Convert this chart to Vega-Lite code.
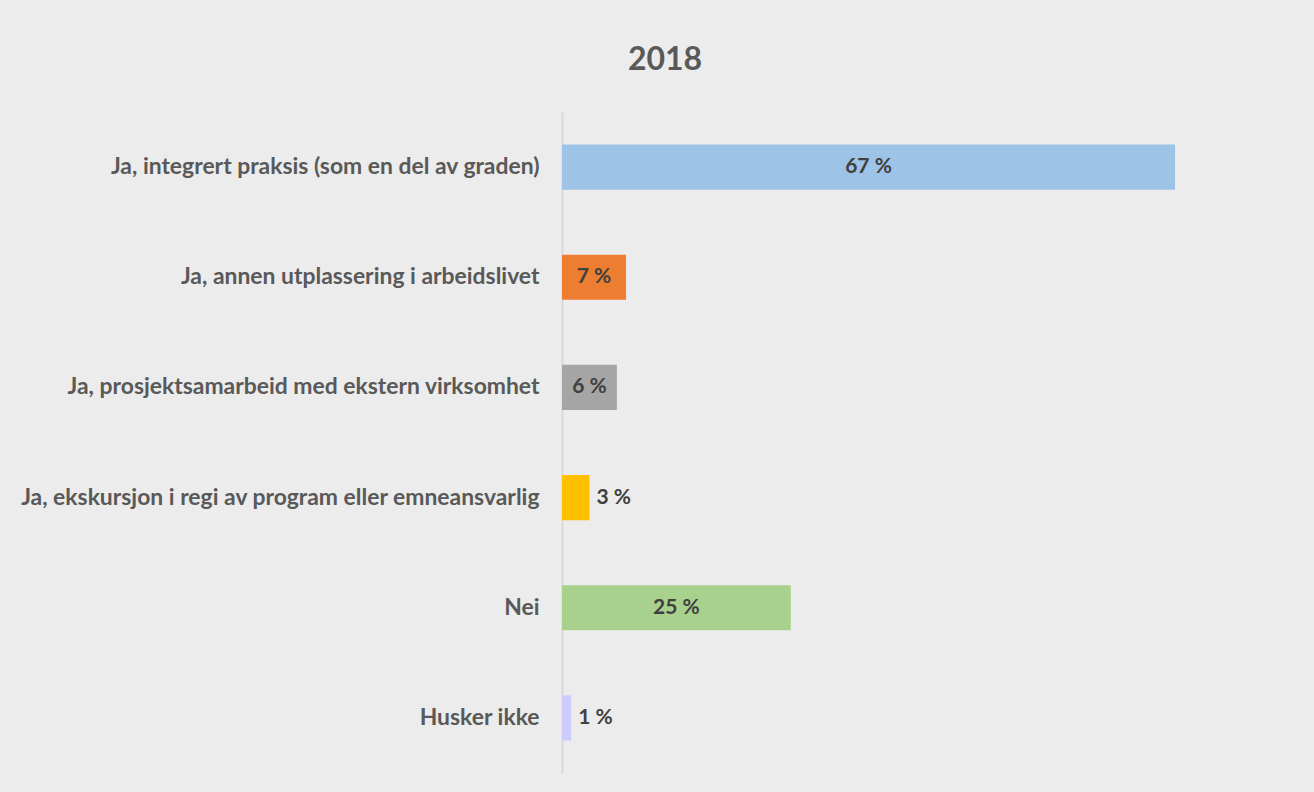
{
  "$schema": "https://vega.github.io/schema/vega-lite/v6.json",
  "autosize": {"type": "none"},
  "width": 732,
  "height": 661,
  "padding": {"left": 562, "top": 112, "right": 20, "bottom": 19},
  "background": "#ececec",
  "config": {
    "view": {"stroke": null},
    "font": "Lato"
  },
  "title": {
    "text": "2018",
    "font": "Lato",
    "fontSize": 32,
    "fontWeight": "bold",
    "color": "#595959",
    "anchor": "middle",
    "frame": "group",
    "dx": -263,
    "offset": 35
  },
  "data": {
    "values": [
      {"category": "Ja, integrert praksis (som en del av graden)", "value": 67},
      {"category": "Ja, annen utplassering i arbeidslivet", "value": 7},
      {"category": "Ja, prosjektsamarbeid med ekstern virksomhet", "value": 6},
      {"category": "Ja, ekskursjon i regi av program eller emneansvarlig", "value": 3},
      {"category": "Nei", "value": 25},
      {"category": "Husker ikke", "value": 1}
    ]
  },
  "transform": [
    {"calculate": "datum.value + ' %'", "as": "label"},
    {"calculate": "datum.value / 2", "as": "mid"}
  ],
  "encoding": {
    "y": {
      "field": "category",
      "type": "nominal",
      "sort": null,
      "scale": {"paddingInner": 0.59, "paddingOuter": 0.295},
      "axis": {
        "title": null,
        "ticks": false,
        "domain": true,
        "domainColor": "#d9d9d9",
        "domainWidth": 2,
        "labelFont": "Lato",
        "labelFontSize": 22.9,
        "labelFontWeight": "bold",
        "labelColor": "#595959",
        "labelPadding": 23,
        "labelLimit": 600
      }
    }
  },
  "layer": [
    {
      "mark": {"type": "bar"},
      "encoding": {
        "x": {
          "field": "value",
          "type": "quantitative",
          "scale": {"domain": [0, 80], "nice": false},
          "axis": null
        },
        "color": {
          "field": "category",
          "type": "nominal",
          "sort": null,
          "legend": null,
          "scale": {
            "domain": [
              "Ja, integrert praksis (som en del av graden)",
              "Ja, annen utplassering i arbeidslivet",
              "Ja, prosjektsamarbeid med ekstern virksomhet",
              "Ja, ekskursjon i regi av program eller emneansvarlig",
              "Nei",
              "Husker ikke"
            ],
            "range": ["#9dc3e6", "#ed7d31", "#a5a5a5", "#ffc000", "#a9d18e", "#ccccff"]
          }
        }
      }
    },
    {
      "transform": [{"filter": "datum.value >= 5"}],
      "mark": {"type": "text", "font": "Lato", "fontSize": 21, "fontWeight": "bold", "color": "#404040", "align": "center", "baseline": "middle"},
      "encoding": {
        "x": {"field": "mid", "type": "quantitative", "scale": {"domain": [0, 80], "nice": false}},
        "text": {"field": "label"}
      }
    },
    {
      "transform": [{"filter": "datum.value < 5"}],
      "mark": {"type": "text", "font": "Lato", "fontSize": 21, "fontWeight": "bold", "color": "#404040", "align": "left", "baseline": "middle", "dx": 7},
      "encoding": {
        "x": {"field": "value", "type": "quantitative", "scale": {"domain": [0, 80], "nice": false}},
        "text": {"field": "label"}
      }
    }
  ]
}
